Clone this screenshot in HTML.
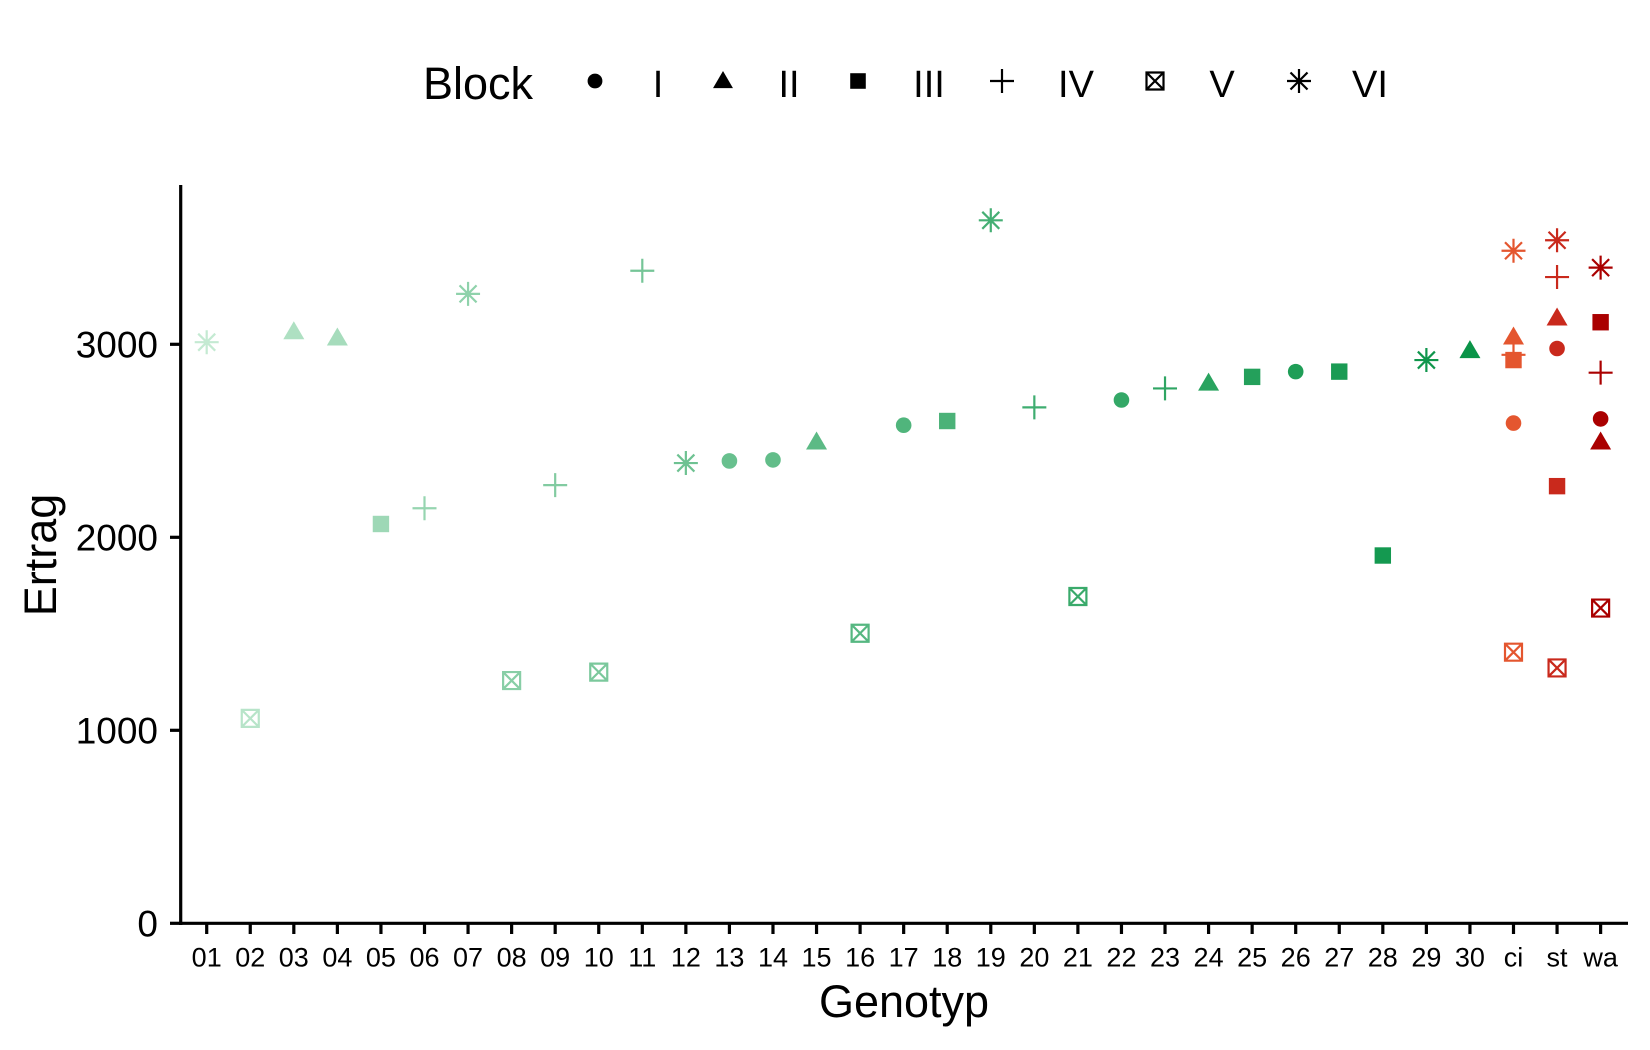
<!DOCTYPE html>
<html><head><meta charset="utf-8"><style>html,body{margin:0;padding:0;background:#fff}svg{display:block}text{font-family:"Liberation Sans",Arial,sans-serif;fill:#000}</style></head>
<body>
<svg id="s" width="1650" height="1050" viewBox="0 0 1650 1050" xmlns="http://www.w3.org/2000/svg">
<rect width="1650" height="1050" fill="#fff"/>
<g id="ax" stroke="#000" stroke-width="3.2" fill="none">
<line x1="180.7" y1="185" x2="180.7" y2="925"/>
<line x1="179" y1="923.3" x2="1628" y2="923.3"/>
</g>
<g id="lab"></g>
<g id="pts"></g>
<g id="leg"></g>
<text x="423" y="99" font-size="45">Block</text>
<text x="904" y="1017" font-size="45" text-anchor="middle">Genotyp</text>
<text transform="translate(56,555) rotate(-90)" font-size="45" text-anchor="middle">Ertrag</text>
</svg>
<script>
const NS="http://www.w3.org/2000/svg";
function el(p,t,a,txt){const e=document.createElementNS(NS,t);for(const k in a)e.setAttribute(k,a[k]);if(txt!==undefined)e.textContent=txt;p.appendChild(e);return e;}
const lab=document.getElementById('lab'),pts=document.getElementById('pts'),leg=document.getElementById('leg');
const ax=document.getElementById('ax');
const Yv=v=>923.3-v*0.193;
[0,1000,2000,3000].forEach(v=>{const y=Yv(v);el(ax,'line',{x1:170,y1:y,x2:180.7,y2:y});el(lab,'text',{x:158,y:y+13,'font-size':37,'text-anchor':'end'},String(v));});
const cats=[];for(let i=1;i<=30;i++)cats.push(String(i).padStart(2,'0'));cats.push('ci','st','wa');
const X=i=>206.7+i*43.56;
cats.forEach((c,i)=>{el(ax,'line',{x1:X(i),y1:923.3,x2:X(i),y2:934});el(lab,'text',{x:X(i),y:966.5,'font-size':27,'text-anchor':'middle'},c);});
const Y=yv=>344.3+(yv-328)*1.0508;
function mk(g,s,x,y,col,k){k=k||1;
 if(s==='c')el(g,'circle',{cx:x,cy:y,r:7.8*k,fill:col});
 else if(s==='t')el(g,'polygon',{points:`${x},${y-10.5*k} ${x-10.5*k},${y+7.5*k} ${x+10.5*k},${y+7.5*k}`,fill:col});
 else if(s==='s')el(g,'rect',{x:x-8.2*k,y:y-8.2*k,width:16.4*k,height:16.4*k,fill:col});
 else if(s==='p')el(g,'path',{d:`M${x-12},${y}H${x+12}M${x},${y-12}V${y+12}`,stroke:col,'stroke-width':2.2,fill:'none'});
 else if(s==='b')el(g,'path',{d:`M${x-8.5},${y-8.5}h17v17h-17zM${x-8.5},${y-8.5}L${x+8.5},${y+8.5}M${x+8.5},${y-8.5}L${x-8.5},${y+8.5}`,stroke:col,'stroke-width':2.2,fill:'none'});
 else if(s==='a')el(g,'path',{d:`M${x-12},${y}H${x+12}M${x},${y-12}V${y+12}M${x-8.5},${y-8.5}L${x+8.5},${y+8.5}M${x+8.5},${y-8.5}L${x-8.5},${y+8.5}`,stroke:col,'stroke-width':2.2,fill:'none'});
}
const data=[['a',326],['b',684],['t',316],['t',322],['s',499],['p',484],['a',280],['b',648],['p',462],['b',640],['p',258],['a',441],['c',439],['c',438],['t',421],['b',603],['c',405],['s',401],['a',210],['p',388],['b',568],['c',381],['p',370],['t',365],['s',359],['c',354],['s',354],['s',529],['a',343],['t',334]];
const c0=[196,234,210],c1=[10,148,72];
data.forEach(([s,y],i)=>{const f=i/29;const c=c0.map((v,k)=>Math.round(v+(c1[k]-v)*Math.pow(f,0.8)));mk(pts,s,X(i),Y(y),`rgb(${c})`);});
const red=[['#e4562f',[['a',239],['t',321],['p',338],['s',343],['c',403],['b',621]]],['#c9291c',[['a',229],['p',264],['t',303],['c',332],['s',463],['b',636]]],['#aa0000',[['a',255],['s',307],['p',355],['c',399],['t',421],['b',579]]]];
red.forEach(([col,arr],j)=>arr.forEach(([s,y])=>mk(pts,s,X(30+j),Y(y),col)));
[['c',595,'I',658],['t',723,'II',789],['s',858,'III',929],['p',1002,'IV',1076],['b',1155,'V',1222],['a',1299,'VI',1370]].forEach(([s,x,t,tx])=>{mk(leg,s,x,81,'#000',0.95);el(leg,'text',{x:tx,y:97,'font-size':38,'text-anchor':'middle'},t);});
</script>
</body></html>
